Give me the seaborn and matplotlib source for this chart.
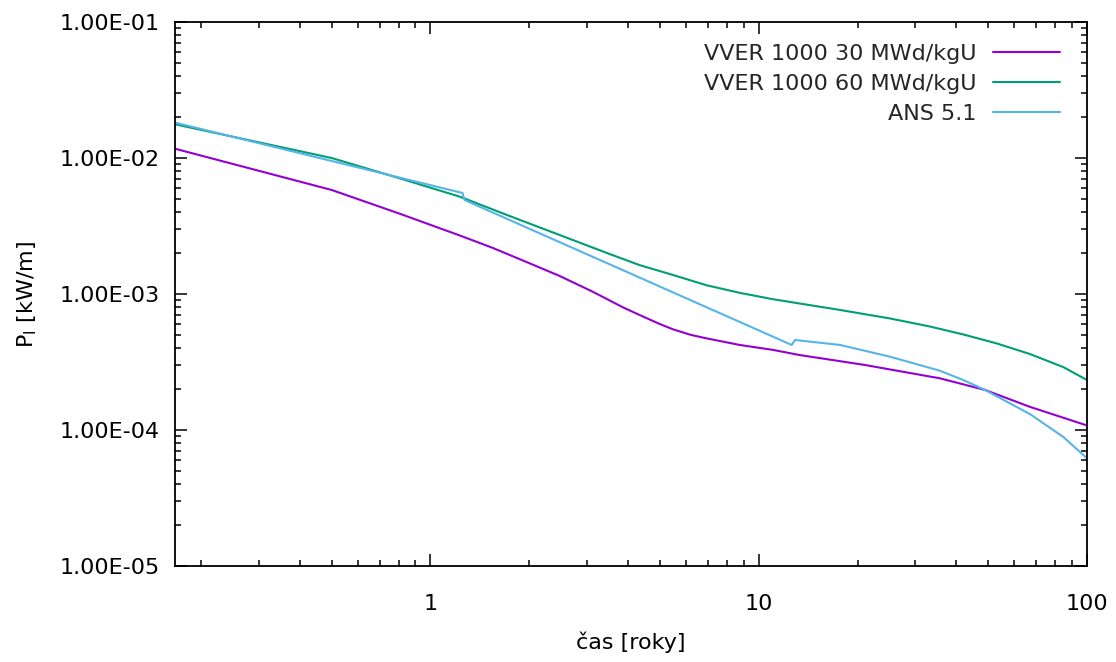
import numpy as np
import pandas as pd
import matplotlib
matplotlib.use("Agg")
import matplotlib.pyplot as plt
import matplotlib.ticker as mticker
import seaborn as sns

# ---- data ----
labels = ["VVER 1000 30 MWd/kgU", "VVER 1000 60 MWd/kgU", "ANS 5.1"]
colors = ["#9400D3", "#009E73", "#56B4E9"]

t_30 = [0.1667, 0.5, 0.8, 1.23, 1.55, 1.96, 2.47, 3.12, 3.85, 4.34, 5.0, 5.48, 6.2,
        6.93, 8.75, 11.06, 13.3, 21.0, 35.6, 48.9, 67.0, 100.0]
p_30 = [0.0117, 0.00582, 0.00392, 0.00269, 0.00218, 0.00172, 0.00136, 0.00104,
        0.000800, 0.000700, 0.000601, 0.000550, 0.000501, 0.000472, 0.000422,
        0.000388, 0.000356, 0.000301, 0.000240, 0.000197, 0.000148, 0.000108]

t_60 = [0.1667, 0.5, 0.8, 1.23, 1.74, 2.47, 3.51, 4.34, 5.48, 6.93, 8.75, 11.06,
        17.7, 25.1, 33.2, 42.0, 53.1, 67.0, 84.7, 100.0]
p_60 = [0.0177, 0.0100, 0.00713, 0.00519, 0.00375, 0.00272, 0.00197, 0.00163,
        0.00138, 0.00116, 0.00102, 0.000915, 0.000763, 0.000661, 0.000577,
        0.000504, 0.000433, 0.000362, 0.000290, 0.000233]

t_ans = [0.1667, 1.252, 1.27, 12.6, 12.9, 17.7, 25.1, 35.6, 42.0, 48.9, 67.0,
         84.7, 100.0]
p_ans = [0.0182, 0.00553, 0.00491, 0.000422, 0.000459, 0.000422, 0.000346,
         0.000273, 0.000233, 0.000197, 0.000131, 0.0000889, 0.0000619]

x_ticks = [1, 10, 100]
y_ticks = [1e-5, 1e-4, 1e-3, 1e-2, 1e-1]

series = [(t_30, p_30), (t_60, p_60), (t_ans, p_ans)]

# ---- style ----
sns.set_theme(style="white")
plt.rcParams["font.family"] = ["DejaVu Sans"]
plt.rcParams["mathtext.fontset"] = "dejavusans"

FS = 16

fig = plt.figure(figsize=(11.16, 6.62), dpi=100)
ax = fig.add_axes([175 / 1116, 1 - 566 / 662, 912 / 1116, 544 / 662])

for (t, p), lab, col in zip(series, labels, colors):
    df = pd.DataFrame({"t": t, "p": p})
    sns.lineplot(data=df, x="t", y="p", ax=ax, color=col, label=lab,
                 linewidth=1.5, estimator=None, sort=False)

ax.set_xscale("log")
ax.set_yscale("log")
ax.set_xlim(1 / 6, 100)
ax.set_ylim(1e-5, 1e-1)

ax.xaxis.set_major_locator(mticker.FixedLocator(x_ticks))
ax.xaxis.set_major_formatter(mticker.FuncFormatter(lambda v, _: f"{v:g}"))
ax.xaxis.set_minor_locator(mticker.LogLocator(base=10, subs=np.arange(2, 10)))
ax.xaxis.set_minor_formatter(mticker.NullFormatter())
ax.yaxis.set_major_locator(mticker.FixedLocator(y_ticks))
ax.yaxis.set_major_formatter(mticker.FuncFormatter(lambda v, _: f"{v:.2E}"))
ax.yaxis.set_minor_locator(mticker.LogLocator(base=10, subs=np.arange(2, 10), numticks=20))
ax.yaxis.set_minor_formatter(mticker.NullFormatter())

ax.tick_params(which="both", direction="in", top=True, right=True,
               bottom=True, left=True, color="black", width=1.1)
ax.tick_params(which="major", length=8.6)
ax.tick_params(which="minor", length=4.3)
ax.tick_params(axis="x", which="major", pad=20, labelsize=FS, labelcolor="black")
ax.tick_params(axis="y", which="major", pad=11, labelsize=FS, labelcolor="black")

for sp in ax.spines.values():
    sp.set_visible(True)
    sp.set_color("black")
    sp.set_linewidth(1.3)

ax.set_xlabel("čas [roky]", fontsize=FS, labelpad=13, color="black")
ax.set_ylabel(r"P$_\mathregular{l}$ [kW/m]", fontsize=FS, labelpad=15, color="black")

leg = ax.legend(loc="upper right", bbox_to_anchor=(0.970, 0.960), frameon=False,
                markerfirst=False, fontsize=FS, handlelength=3.0,
                handletextpad=0.75, labelspacing=0.45, borderpad=0, borderaxespad=0)

fig.savefig("out.png", dpi=100)
